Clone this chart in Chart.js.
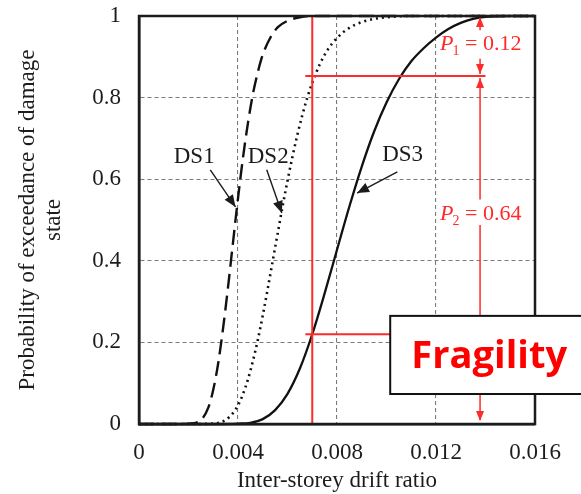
<!DOCTYPE html>
<html><head><meta charset="utf-8">
<script src="https://cdn.jsdelivr.net/npm/chart.js@4/dist/chart.umd.min.js"></script>
<style>html,body{margin:0;padding:0;background:#fff}</style>
</head><body>
<canvas id="c" width="581" height="494"></canvas>
<script>
// ---- data ----
const xTickLabels = ['0', '0.004', '0.008', '0.012', '0.016'];
const yTickLabels = ['0', '0.2', '0.4', '0.6', '0.8', '1'];

const ds1X = [0, 0.001, 0.0015, 0.002, 0.0025, 0.0028, 0.003, 0.0032, 0.0034, 0.0036, 0.0038, 0.004, 0.0042, 0.0044, 0.0046, 0.0048, 0.005, 0.0053, 0.0056, 0.006, 0.0065, 0.007, 0.016];
const ds1Y = [0, 0, 0, 0.001, 0.01, 0.04, 0.084, 0.149, 0.236, 0.337, 0.446, 0.553, 0.652, 0.737, 0.808, 0.862, 0.905, 0.946, 0.972, 0.988, 0.997, 1, 1];

const ds2X = [0, 0.002, 0.003, 0.0035, 0.0038, 0.004, 0.0042, 0.0044, 0.0046, 0.0048, 0.005, 0.0052, 0.0054, 0.0056, 0.0058, 0.006, 0.0062, 0.0064, 0.0066, 0.0068, 0.007, 0.0073, 0.0076, 0.008, 0.0085, 0.009, 0.0095, 0.01, 0.011, 0.016];
const ds2Y = [0, 0, 0.001, 0.01, 0.027, 0.046, 0.073, 0.109, 0.154, 0.206, 0.266, 0.331, 0.399, 0.466, 0.533, 0.596, 0.655, 0.709, 0.757, 0.8, 0.836, 0.881, 0.915, 0.946, 0.971, 0.985, 0.993, 0.997, 1, 1];

const ds3X = [0, 0.003, 0.004, 0.0045, 0.005, 0.0055, 0.006, 0.0065, 0.007, 0.0075, 0.008, 0.0085, 0.009, 0.0095, 0.01, 0.0105, 0.011, 0.0115, 0.012, 0.0125, 0.013, 0.0135, 0.014, 0.015, 0.016];
const ds3Y = [0, 0, 0.001, 0.003, 0.012, 0.034, 0.074, 0.136, 0.22, 0.32, 0.427, 0.533, 0.631, 0.717, 0.788, 0.845, 0.889, 0.921, 0.947, 0.968, 0.983, 0.993, 0.998, 1, 1];

const seriesNames = ['DS1', 'DS2', 'DS3'];
// label positions [x, y] and arrow [fromX, fromY, tipX, tipY] in data units
const labelPos = [[0.00223, 0.655], [0.00522, 0.655], [0.01065, 0.66]];
const labelArrows = [[0.00288, 0.623, 0.0039, 0.532], [0.00516, 0.623, 0.00577, 0.517], [0.01044, 0.618, 0.00881, 0.566]];

// red annotation values
const redDrift = 0.007;
const pUpper = 0.853;
const pLower = 0.22;
const redHStart = 0.00672;
const redHEnd = 0.0140;
const arrowDrift = 0.01378;
const p1Text = ['P', '1', ' = 0.12'];
const p2Text = ['P', '2', ' = 0.64'];
const boxText = 'Fragility';

const RED = '#ff2a2a';
const INK = '#1c1c1c';
const SERIF = '"Liberation Serif", "DejaVu Serif", serif';

function pts(xs, ys) { return xs.map((v, i) => ({x: v, y: ys[i]})); }

function arrowHead(ctx, x0, y0, x1, y1, len, half) {
  const a = Math.atan2(y1 - y0, x1 - x0);
  ctx.beginPath();
  ctx.moveTo(x1, y1);
  ctx.lineTo(x1 - len * Math.cos(a) + half * Math.sin(a), y1 - len * Math.sin(a) - half * Math.cos(a));
  ctx.lineTo(x1 - len * Math.cos(a) - half * Math.sin(a), y1 - len * Math.sin(a) + half * Math.cos(a));
  ctx.closePath();
  ctx.fill();
}
function seg(ctx, x0, y0, x1, y1) { ctx.beginPath(); ctx.moveTo(x0, y0); ctx.lineTo(x1, y1); ctx.stroke(); }

function drawP(ctx, parts, x0, yc) {
  ctx.textBaseline = 'middle';
  ctx.textAlign = 'left';
  ctx.font = 'italic 22px ' + SERIF;
  ctx.fillText(parts[0], x0, yc);
  let x = x0 + ctx.measureText(parts[0]).width - 1;
  ctx.font = '14px ' + SERIF;
  ctx.fillText(parts[1], x, yc + 7);
  x += ctx.measureText(parts[1]).width;
  ctx.font = '22px ' + SERIF;
  ctx.fillText(parts[2], x, yc);
}

const overlay = {
  id: 'overlay',
  afterDatasetsDraw(chart) {
    const {ctx, chartArea: a, scales: {x, y}} = chart;
    const X = v => x.getPixelForValue(v), Y = v => y.getPixelForValue(v);
    ctx.save();
    // red lines
    ctx.strokeStyle = RED; ctx.fillStyle = RED; ctx.lineWidth = 2;
    seg(ctx, X(redDrift), Y(0), X(redDrift), Y(1));
    seg(ctx, X(redHStart), Y(pUpper), X(redHEnd), Y(pUpper));
    seg(ctx, X(redHStart), Y(pLower), X(redHEnd), Y(pLower));
    // vertical dimension arrows
    ctx.lineWidth = 1.5;
    const ax = X(arrowDrift);
    seg(ctx, ax, Y(1) + 2, ax, Y(0.965));
    arrowHead(ctx, ax, Y(1) + 12, ax, Y(1) + 1, 10, 4);
    seg(ctx, ax, Y(0.895), ax, Y(pUpper) - 2);
    arrowHead(ctx, ax, Y(pUpper) - 14, ax, Y(pUpper) - 2, 10, 4);
    arrowHead(ctx, ax, Y(pUpper) + 14, ax, Y(pUpper) + 2, 10, 4);
    seg(ctx, ax, Y(pUpper) + 2, ax, Y(0.55));
    seg(ctx, ax, Y(0.488), ax, Y(0) - 4);
    arrowHead(ctx, ax, Y(0) - 16, ax, Y(0) - 3, 10, 4);
    drawP(ctx, p1Text, ax - 40, Y(0.93));
    drawP(ctx, p2Text, ax - 40, Y(0.515));
    // DS labels and arrows
    ctx.fillStyle = INK; ctx.strokeStyle = INK; ctx.lineWidth = 1.4;
    ctx.font = '23px ' + SERIF;
    ctx.textAlign = 'center'; ctx.textBaseline = 'middle';
    seriesNames.forEach((n, i) => {
      ctx.fillText(n, X(labelPos[i][0]), Y(labelPos[i][1]));
      const r = labelArrows[i];
      seg(ctx, X(r[0]), Y(r[1]), X(r[2]), Y(r[3]));
      arrowHead(ctx, X(r[0]), Y(r[1]), X(r[2]), Y(r[3]), 12, 5);
    });
    // frame
    ctx.strokeStyle = INK; ctx.lineWidth = 2.5;
    ctx.strokeRect(a.left, a.top, a.right - a.left, a.bottom - a.top);
    ctx.restore();
  },
  afterDraw(chart) {
    const {ctx, scales: {x, y}} = chart;
    const X = v => x.getPixelForValue(v), Y = v => y.getPixelForValue(v);
    ctx.save();
    const bx = X(0.01015), by = Y(0.265), bh = Y(0.0735) - Y(0.265);
    ctx.fillStyle = '#fff';
    ctx.fillRect(bx, by, chart.width - bx + 10, bh);
    ctx.strokeStyle = '#111'; ctx.lineWidth = 2;
    ctx.strokeRect(bx, by, chart.width - bx + 10, bh);
    let size = 36;
    ctx.font = 'bold ' + size + 'px "Open Sans", "Liberation Sans", sans-serif';
    const w = ctx.measureText(boxText).width;
    size = size * 156 / w;
    ctx.font = 'bold ' + size.toFixed(1) + 'px "Open Sans", "Liberation Sans", sans-serif';
    ctx.fillStyle = '#ff0000';
    ctx.textAlign = 'center'; ctx.textBaseline = 'alphabetic';
    ctx.fillText(boxText, bx + 99, by + 52);
    ctx.restore();
  }
};

const tickFont = {family: SERIF, size: 23};
new Chart(document.getElementById('c'), {
  type: 'line',
  data: {
    datasets: [
      {label: seriesNames[0], data: pts(ds1X, ds1Y), borderColor: '#111', borderWidth: 2.4, borderDash: [15, 7], pointRadius: 0, cubicInterpolationMode: 'monotone', clip: false},
      {label: seriesNames[1], data: pts(ds2X, ds2Y), borderColor: '#111', borderWidth: 2.6, borderDash: [2, 4], pointRadius: 0, cubicInterpolationMode: 'monotone', clip: false},
      {label: seriesNames[2], data: pts(ds3X, ds3Y), borderColor: '#111', borderWidth: 2.3, pointRadius: 0, cubicInterpolationMode: 'monotone', clip: false}
    ]
  },
  options: {
    responsive: false,
    animation: false,
    layout: {padding: {left: 0, right: 46, top: 16, bottom: 0}},
    plugins: {legend: {display: false}, tooltip: {enabled: false}},
    scales: {
      x: {
        type: 'linear', min: 0, max: 0.016,
        afterFit: s => { s.height = 70; s.paddingLeft = 0; s.paddingRight = 0; },
        ticks: {stepSize: 0.004, padding: 15, color: INK, font: tickFont, maxRotation: 0,
          callback: (v, i) => xTickLabels[i]},
        grid: {color: '#7a7a7a', lineWidth: 1.1, drawTicks: false},
        border: {display: true, color: INK, width: 2.5, dash: [4, 3]},
        title: {display: true, text: 'Inter-storey drift ratio', color: INK, font: {family: SERIF, size: 23, lineHeight: 1.15}, padding: {top: 0, bottom: 0}}
      },
      y: {
        min: 0, max: 1,
        afterFit: s => { s.width = 139; s.paddingTop = 0; s.paddingBottom = 0; },
        ticks: {stepSize: 0.2, padding: 18, color: INK, font: tickFont,
          callback: (v, i) => yTickLabels[i]},
        grid: {color: '#7a7a7a', lineWidth: 1.1, drawTicks: false},
        border: {display: true, color: INK, width: 2.5, dash: [4, 3]},
        title: {display: true, text: ['Probability of exceedance of damage', 'state'], color: INK,
          font: {family: SERIF, size: 23, lineHeight: 1.17}, padding: {top: 14, bottom: 0}}
      }
    }
  },
  plugins: [overlay]
});
</script>
</body></html>
